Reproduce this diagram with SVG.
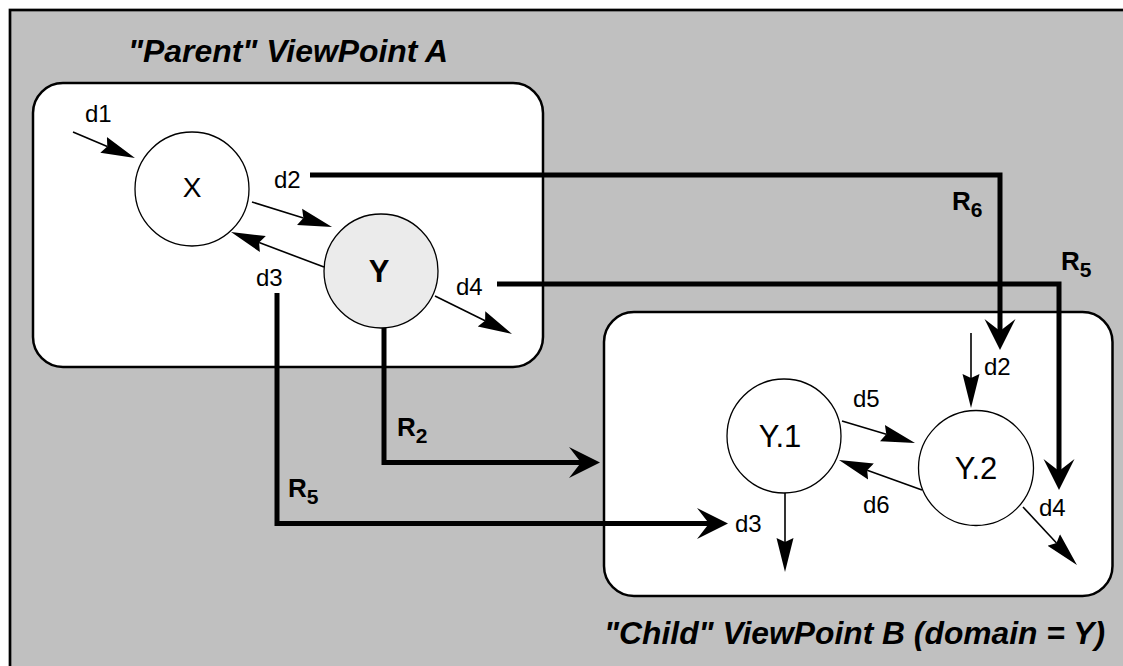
<svg xmlns="http://www.w3.org/2000/svg" width="1123" height="666" viewBox="0 0 1123 666">
<style>
.frame{fill:#c0c0c0;stroke:#000;stroke-width:2.7}
.box{fill:#fff;stroke:#000;stroke-width:2.5}
.circ{fill:#fff;stroke:#000;stroke-width:1.3}
.thin{fill:none;stroke:#000;stroke-width:1.6;marker-end:url(#ah-thin)}
.thick{fill:none;stroke:#000;stroke-width:5;marker-end:url(#ah-thick)}
text{font-family:"Liberation Sans",Arial,Helvetica,sans-serif;fill:#000}
.title{font-size:31px;font-weight:bold;font-style:italic}
.lbl{font-size:24px}
.node{font-size:31px;text-anchor:middle}
.r{font-size:26px;font-weight:bold}
.sub{font-size:21px}
</style>
<defs>
<marker id="ah-thin" markerUnits="userSpaceOnUse" viewBox="0 -10 36 20" refX="4" refY="0" markerWidth="36" markerHeight="20" orient="auto">
<path d="M0,-8.5 L34,0 L0,8.5 L4,0 Z" fill="#000"/>
</marker>
<marker id="ah-thick" markerUnits="userSpaceOnUse" viewBox="0 -17 32 34" refX="12" refY="0" markerWidth="32" markerHeight="34" orient="auto">
<path d="M0,-15.5 L31,0 L0,15.5 L12,0 Z" fill="#000"/>
</marker>
</defs>
<rect width="1123" height="666" fill="#fff"/>
<rect class="frame" x="10" y="10" width="1200" height="700"/>
<g id="viewpoint-A">
<rect class="box" x="33" y="83" width="510" height="284" rx="30" ry="30"/>
<text class="title" x="128" y="62" textLength="320" lengthAdjust="spacingAndGlyphs">"Parent" ViewPoint A</text>
</g>
<g id="viewpoint-B">
<rect class="box" x="604" y="312" width="508.5" height="284" rx="30" ry="30"/>
<text class="title" x="604" y="644" textLength="501" lengthAdjust="spacingAndGlyphs">"Child" ViewPoint B (domain = Y)</text>
</g>
<g id="node-X">
<circle class="circ" cx="192" cy="189" r="57"/>
<text class="node" x="192" y="197" style="font-size:28px">X</text>
</g>
<g id="node-Y">
<circle class="circ" cx="381" cy="271" r="57" style="fill:#ebebeb"/>
<text class="node" x="379" y="282" style="font-weight:bold">Y</text>
</g>
<g id="node-Y1">
<circle class="circ" cx="784" cy="436" r="57"/>
<text class="node" x="780" y="447">Y.1</text>
</g>
<g id="node-Y2">
<circle class="circ" cx="976" cy="468" r="57.5"/>
<text class="node" x="976" y="479">Y.2</text>
</g>
<g id="connectors">
<path class="thin" d="M73,132 L107.3,146.4"/>
<path class="thin" d="M252,202 L303.4,218.1"/>
<path class="thin" d="M324,267 L259.1,242.6"/>
<path class="thin" d="M435,296 L485.1,320.7"/>
<path class="thin" d="M971,333 L971,378"/>
<path class="thin" d="M842,421 L886.3,434.3"/>
<path class="thin" d="M922,490 L867.2,470.2"/>
<path class="thin" d="M785,493 L785,542"/>
<path class="thin" d="M1023,507 L1056.5,543"/>
<path class="thick" d="M310,175 H1000 V331"/>
<path class="thick" d="M497,284 H1059 V471"/>
<path class="thick" d="M384,328 V462.5 H581"/>
<path class="thick" d="M277,293 V523.5 H709"/>
</g>
<g id="labels">
<text class="lbl" x="85" y="122">d1</text>
<text class="lbl" x="274" y="188">d2</text>
<text class="lbl" x="256" y="286">d3</text>
<text class="lbl" x="456" y="295">d4</text>
<text class="lbl" x="984" y="375">d2</text>
<text class="lbl" x="853" y="407">d5</text>
<text class="lbl" x="863" y="513">d6</text>
<text class="lbl" x="735" y="532">d3</text>
<text class="lbl" x="1039" y="516">d4</text>
<text class="r" x="397" y="436">R<tspan class="sub" dy="7">2</tspan></text>
<text class="r" x="288" y="497">R<tspan class="sub" dy="7">5</tspan></text>
<text class="r" x="952" y="210">R<tspan class="sub" dy="7">6</tspan></text>
<text class="r" x="1061" y="270">R<tspan class="sub" dy="7">5</tspan></text>
</g>
</svg>
